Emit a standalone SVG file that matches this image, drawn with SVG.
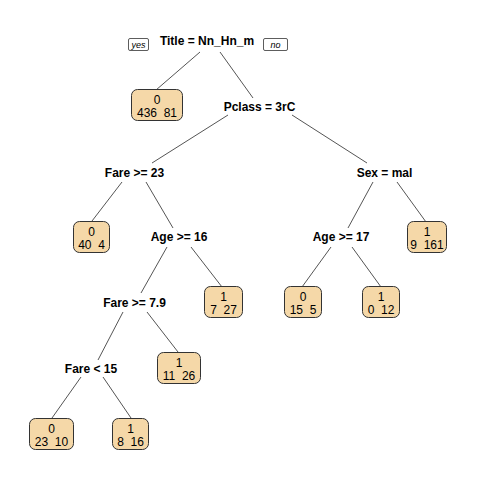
<svg xmlns="http://www.w3.org/2000/svg" width="480" height="480" viewBox="0 0 480 480">
<style>
.split{font-family:"Liberation Sans",Arial,sans-serif;font-size:12px;font-weight:bold;fill:#000;text-anchor:middle}
.leaf rect{fill:#F5D8A8;stroke:#333;stroke-width:1}
.leaf text{font-family:"Liberation Sans",Arial,sans-serif;font-size:12px;fill:#000;text-anchor:middle;white-space:pre}
.yn rect{fill:#fff;stroke:#333;stroke-width:0.8}
.yn text{font-family:"Liberation Sans",Arial,sans-serif;font-size:9px;font-style:italic;fill:#000;text-anchor:middle}
#edges line{stroke:#555;stroke-width:1}
</style>
<rect width="480" height="480" fill="#fff"/>
<g id="edges">
<line x1="200" y1="52" x2="156" y2="90"/>
<line x1="220" y1="52" x2="253" y2="98"/>
<line x1="228" y1="115" x2="152" y2="163"/>
<line x1="292" y1="115" x2="367" y2="163"/>
<line x1="122" y1="182" x2="92" y2="221"/>
<line x1="146" y1="182" x2="173" y2="228"/>
<line x1="167" y1="247" x2="141" y2="293"/>
<line x1="191" y1="247" x2="222" y2="287"/>
<line x1="123" y1="312" x2="98" y2="360"/>
<line x1="147" y1="312" x2="178" y2="352"/>
<line x1="81" y1="377" x2="52" y2="418"/>
<line x1="103" y1="377" x2="131" y2="418"/>
<line x1="373" y1="182" x2="348" y2="228"/>
<line x1="397" y1="182" x2="426" y2="222"/>
<line x1="331" y1="247" x2="302" y2="287"/>
<line x1="352" y1="247" x2="381" y2="287"/>
</g>
<g id="yes" class="yn"><rect x="128.5" y="38.5" width="20" height="12" rx="1.5"/><text x="138.5" y="48">yes</text></g>
<g id="no" class="yn"><rect x="263.5" y="38.5" width="24" height="12" rx="1.5"/><text x="275.5" y="48">no</text></g>
<g id="n_root"><text class="split" x="207" y="45">Title = Nn_Hn_m</text></g>
<g id="n_pclass"><text class="split" x="259.5" y="111">Pclass = 3rC</text></g>
<g id="n_fare23"><text class="split" x="134.5" y="177">Fare &gt;= 23</text></g>
<g id="n_age16"><text class="split" x="179" y="241">Age &gt;= 16</text></g>
<g id="n_fare79"><text class="split" x="134.5" y="307">Fare &gt;= 7.9</text></g>
<g id="n_fare15"><text class="split" x="91" y="373">Fare &lt; 15</text></g>
<g id="n_sex"><text class="split" x="384.5" y="177">Sex = mal</text></g>
<g id="n_age17"><text class="split" x="341" y="241">Age &gt;= 17</text></g>
<g id="leaf1" class="leaf"><rect x="131.5" y="89.5" width="51" height="31" rx="6"/><text x="157" y="104">0</text><text x="157" y="117">436  81</text></g>
<g id="leaf2" class="leaf"><rect x="73.5" y="221.5" width="36" height="31" rx="6"/><text x="91.5" y="236">0</text><text x="91.5" y="249">40  4</text></g>
<g id="leaf3" class="leaf"><rect x="204.5" y="286.5" width="38" height="31" rx="6"/><text x="223.5" y="301">1</text><text x="223.5" y="314">7  27</text></g>
<g id="leaf4" class="leaf"><rect x="157.5" y="352.5" width="43" height="31" rx="6"/><text x="179" y="367">1</text><text x="179" y="380">11  26</text></g>
<g id="leaf5" class="leaf"><rect x="29.5" y="418.5" width="44" height="31" rx="6"/><text x="51.5" y="433">0</text><text x="51.5" y="446">23  10</text></g>
<g id="leaf6" class="leaf"><rect x="112.5" y="418.5" width="36" height="31" rx="6"/><text x="130.5" y="433">1</text><text x="130.5" y="446">8  16</text></g>
<g id="leaf7" class="leaf"><rect x="284.5" y="286.5" width="37" height="31" rx="6"/><text x="303" y="301">0</text><text x="303" y="314">15  5</text></g>
<g id="leaf8" class="leaf"><rect x="362.5" y="286.5" width="37" height="31" rx="6"/><text x="381" y="301">1</text><text x="381" y="314">0  12</text></g>
<g id="leaf9" class="leaf"><rect x="407.5" y="221.5" width="39" height="31" rx="6"/><text x="427" y="236">1</text><text x="427" y="249">9  161</text></g>
</svg>
